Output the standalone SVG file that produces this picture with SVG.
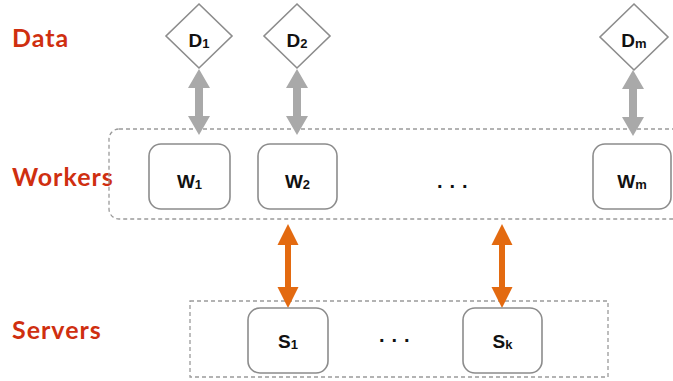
<svg xmlns="http://www.w3.org/2000/svg" width="673" height="381" viewBox="0 0 673 381">
  <style>
    .tier { font-family: "Lato", "Open Sans", "Liberation Sans", sans-serif; font-weight: bold; font-size: 25px; letter-spacing: 1px; fill: #cf2f10; }
    .lbl { font-family: "Liberation Sans", Arial, sans-serif; font-weight: bold; font-size: 19px; fill: #111; text-anchor: middle; }
    .sub { font-size: 13px; }
    .node { fill: #ffffff; stroke: #8c8c8c; stroke-width: 1.6; }
    .group { fill: none; stroke: #9a9a9a; stroke-width: 1.3; stroke-dasharray: 4 3; }
    .data-link { fill: #a9a9a9; }
    .server-link { fill: #e36a10; }
    .dots { font-family: "Liberation Sans", Arial, sans-serif; font-weight: bold; font-size: 20px; fill: #111; letter-spacing: 7px; }
  </style>

  <rect width="673" height="381" fill="#ffffff"/>

  <!-- tier labels -->
  <text class="tier" x="12" y="47">Data</text>
  <text class="tier" x="12" y="186">Workers</text>
  <text class="tier" x="12" y="339">Servers</text>

  <!-- grouping boxes -->
  <g id="workers-group">
    <rect class="group" x="109" y="129" width="600" height="90" rx="10"/>
  </g>
  <g id="servers-group">
    <rect class="group" x="190" y="301" width="418" height="76"/>
  </g>

  <!-- connectors: double-headed block arrows -->
  <g id="connectors">
    <path class="data-link" d="M199,69 L210,88 L203,88 L203,116 L210,116 L199,135 L188,116 L195,116 L195,88 L188,88 Z"/>
    <path class="data-link" d="M297,69 L308,88 L301,88 L301,116 L308,116 L297,135 L286,116 L293,116 L293,88 L286,88 Z"/>
    <path class="data-link" d="M633,70 L644,89 L637,89 L637,117 L644,117 L633,136 L622,117 L629,117 L629,89 L622,89 Z"/>
    <path class="server-link" d="M288,224 L298.5,245 L291,245 L291,287 L298.5,287 L288,308 L277.5,287 L285,287 L285,245 L277.5,245 Z"/>
    <path class="server-link" d="M502,224 L512.5,245 L505,245 L505,287 L512.5,287 L502,308 L491.5,287 L499,287 L499,245 L491.5,245 Z"/>
  </g>

  <!-- data shards -->
  <g id="d1">
    <polygon class="node" points="199,4 232,36 199,68 166,36"/>
    <text class="lbl" x="199" y="47">D<tspan class="sub" dy="1">1</tspan></text>
  </g>
  <g id="d2">
    <polygon class="node" points="297,4 330,36 297,68 264,36"/>
    <text class="lbl" x="297" y="47">D<tspan class="sub" dy="1">2</tspan></text>
  </g>
  <g id="dm">
    <polygon class="node" points="634,4 668,37 634,70 600,37"/>
    <text class="lbl" x="634" y="47">D<tspan class="sub" dy="1">m</tspan></text>
  </g>

  <!-- workers -->
  <g id="w1">
    <rect class="node" x="149" y="144" width="81" height="65" rx="12"/>
    <text class="lbl" x="189.5" y="188">W<tspan class="sub" dy="1">1</tspan></text>
  </g>
  <g id="w2">
    <rect class="node" x="258" y="144" width="79" height="65" rx="12"/>
    <text class="lbl" x="297.5" y="188">W<tspan class="sub" dy="1">2</tspan></text>
  </g>
  <text class="dots" x="437" y="188">...</text>
  <g id="wm">
    <rect class="node" x="593" y="144" width="78" height="65" rx="12"/>
    <text class="lbl" x="632" y="188">W<tspan class="sub" dy="1">m</tspan></text>
  </g>

  <!-- servers -->
  <g id="s1">
    <rect class="node" x="248" y="308" width="80" height="65" rx="12"/>
    <text class="lbl" x="288" y="348">S<tspan class="sub" dy="1">1</tspan></text>
  </g>
  <text class="dots" x="379" y="342">...</text>
  <g id="sk">
    <rect class="node" x="463" y="308" width="79" height="65" rx="12"/>
    <text class="lbl" x="502.5" y="348">S<tspan class="sub" dy="1">k</tspan></text>
  </g>
</svg>
